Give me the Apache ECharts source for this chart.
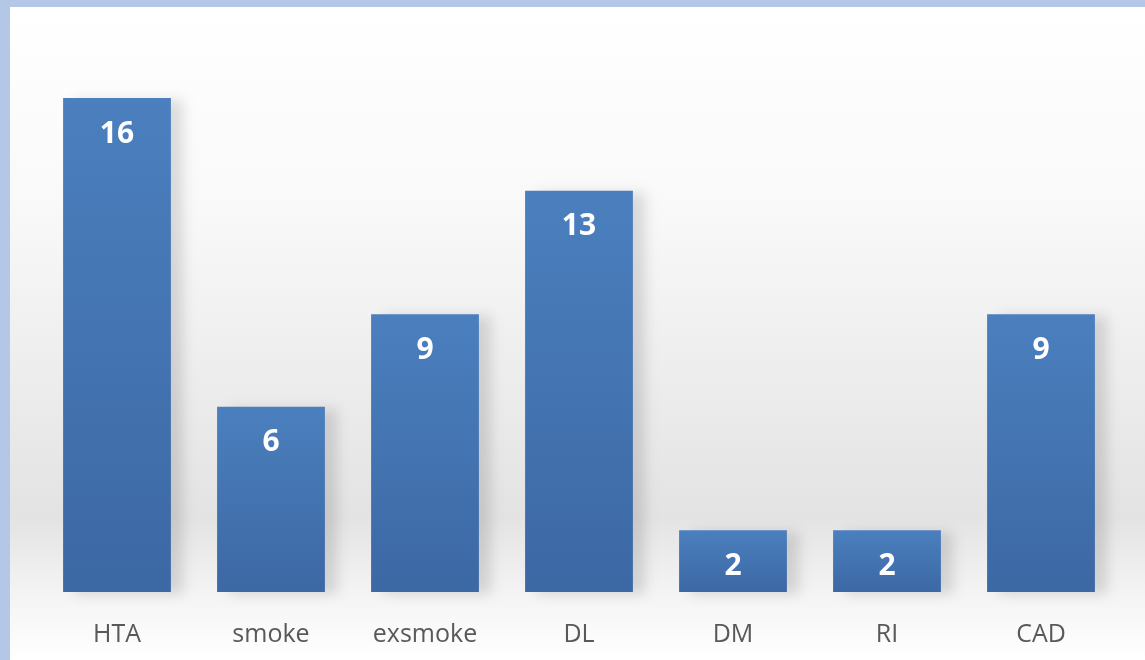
<!DOCTYPE html>
<html>
<head>
<meta charset="utf-8">
<script src="https://cdn.jsdelivr.net/npm/echarts@6/dist/echarts.min.js"></script>
<style>
  html, body { margin: 0; padding: 0; background: #b4c7e7; }
  #frame { position: relative; width: 1145px; height: 660px; background: #b4c7e7; overflow: hidden; }
  #chart { position: absolute; left: 10px; top: 7px; width: 1135px; height: 653px; }
</style>
</head>
<body>
<div id="frame"><div id="chart"></div></div>
<script>
var categories = ['HTA', 'smoke', 'exsmoke', 'DL', 'DM', 'RI', 'CAD'];
var counts = [16, 6, 9, 13, 2, 2, 9];

(function () {
  var chart = echarts.init(document.getElementById('chart'), null, { renderer: 'canvas' });
  chart.setOption({
    animation: false,
    backgroundColor: new echarts.graphic.LinearGradient(0, 0, 0, 1, [
      { offset: 0, color: '#ffffff' },
      { offset: 0.3, color: '#f9f9f9' },
      { offset: 0.78, color: '#e3e3e3' },
      { offset: 0.9, color: '#f4f4f4' },
      { offset: 1, color: '#ffffff' }
    ]),
    grid: { left: 30, right: 27, top: 91, bottom: 68 },
    xAxis: {
      type: 'category',
      data: categories,
      axisLine: { show: false },
      axisTick: { show: false },
      axisLabel: {
        color: '#595959',
        fontFamily: 'Open Sans',
        fontSize: 25,
        margin: 30
      }
    },
    yAxis: {
      type: 'value',
      min: 0,
      max: 16,
      show: false,
      splitLine: { show: false }
    },
    series: [{
      type: 'bar',
      data: counts,
      barCategoryGap: '30%',
      itemStyle: {
        color: new echarts.graphic.LinearGradient(0, 0, 0, 1, [
          { offset: 0, color: '#4b7fbe' },
          { offset: 1, color: '#3c68a4' }
        ]),
        shadowColor: 'rgba(0,0,0,0.13)',
        shadowBlur: 12,
        shadowOffsetX: 12,
        shadowOffsetY: 2
      },
      label: {
        show: true,
        position: 'insideTop',
        distance: 21,
        color: '#ffffff',
        fontFamily: 'Open Sans',
        fontWeight: 'bold',
        fontSize: 30
      }
    }]
  });
})();
</script>
</body>
</html>
